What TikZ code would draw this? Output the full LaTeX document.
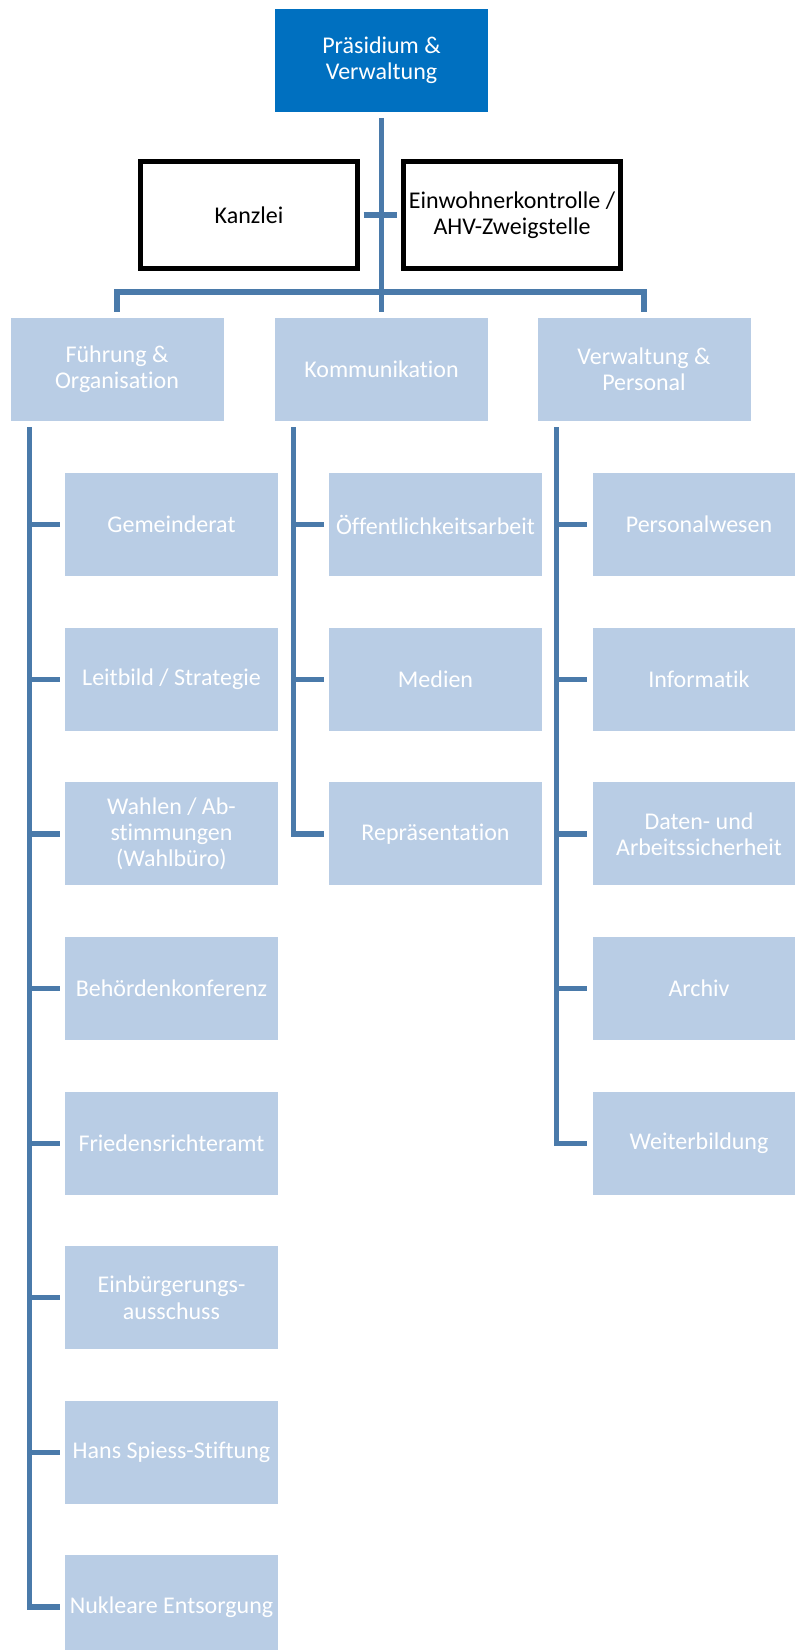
\documentclass[tikz,border=0pt]{standalone}
\usepackage{fontspec}
\setmainfont{Carlito}[Ligatures=NoCommon]
\usetikzlibrary{calc}

\definecolor{headblue}{HTML}{0070C0}
\definecolor{unitblue}{HTML}{B9CDE5}
\definecolor{linkblue}{RGB}{74,122,170}

\tikzset{
  conn/.style={draw=linkblue, line width=3.9pt},
  headbox/.style={fill=headblue, text=white, minimum width=159.75pt, minimum height=77.25pt,
    inner sep=0pt, align=center},
  unitbox/.style={fill=unitblue, text=white, minimum width=159.75pt, minimum height=77.25pt,
    inner sep=0pt, align=center},
  staffbox/.style={draw=black, line width=3.9pt, fill=white, text=black,
    minimum width=163pt, minimum height=80pt, inner sep=0pt, align=center},
  stub/.style={conn, shorten >=3.75pt},
}

\begin{document}
\begin{tikzpicture}[x=0.75pt, y=-0.75pt, font=\fontsize{18}{19.6}\selectfont]
\useasboundingbox (0,0) rectangle (794,1650);

% Head of the department
\node[headbox] (top) at (381.5,60) {Präsidium \&\\Verwaltung};

% Staff units
\node[staffbox] (kanzlei) at (249,215) {Kanzlei};
\node[staffbox] (einw) at (512,215) {Einwohnerkontrolle /\\AHV-Zweigstelle};

% Divisions
\node[unitbox] (fuehr) at (117,369.5) {Führung \&\\Organisation};
\node[unitbox] (komm) at (381.5,369.5) {Kommunikation};
\node[unitbox] (verw) at (644,369.5) {Verwaltung \&\\Personal};

% Führung & Organisation
\node[unitbox] (f1) at (171.5,524.7) {Gemeinderat};
\node[unitbox] (f2) at (171.5,679.3) {Leitbild / Strategie};
\node[unitbox] (f3) at (171.5,833.9) {Wahlen / Ab-\\stimmungen\\(Wahlbüro)};
\node[unitbox] (f4) at (171.5,988.5) {Behördenkonferenz};
\node[unitbox] (f5) at (171.5,1143.1) {Friedensrichteramt};
\node[unitbox] (f6) at (171.5,1297.7) {Einbürgerungs-\\ausschuss};
\node[unitbox] (f7) at (171.5,1452.3) {Hans Spiess-Stiftung};
\node[unitbox] (f8) at (171.5,1606.9) {Nukleare Entsorgung};

% Kommunikation
\node[unitbox] (k1) at (435.5,524.7) {Öffentlichkeitsarbeit};
\node[unitbox] (k2) at (435.5,679.3) {Medien};
\node[unitbox] (k3) at (435.5,833.9) {Repräsentation};

% Verwaltung & Personal
\node[unitbox] (v1) at (699,524.7) {Personalwesen};
\node[unitbox] (v2) at (699,679.3) {Informatik};
\node[unitbox] (v3) at (699,833.9) {Daten- und\\Arbeitssicherheit};
\node[unitbox] (v4) at (699,988.5) {Archiv};
\node[unitbox] (v5) at (699,1143.1) {Weiterbildung};

% Main trunk and bus to the divisions
\coordinate (bus) at (381.5,292);
\draw[conn] ($(top.south)+(0,6)$) -- ($(komm.north)+(0,-6)$);
\draw[conn] ($(fuehr.north)+(0,-6)$) |- (bus) -| ($(verw.north)+(0,-6)$);
\draw[conn, shorten <=2.6pt, shorten >=2.6pt] (kanzlei.east) -- (einw.west);

% Column trunks
\coordinate (fx) at ($(fuehr.south west)+(19,6)$);
\coordinate (kx) at ($(komm.south west)+(19,6)$);
\coordinate (vx) at ($(verw.south west)+(19,6)$);

\foreach \c in {f1,f2,f3,f4,f5,f6,f7,f8} \draw[stub] (fx) |- (\c.west);
\foreach \c in {k1,k2,k3} \draw[stub] (kx) |- (\c.west);
\foreach \c in {v1,v2,v3,v4,v5} \draw[stub] (vx) |- (\c.west);
\end{tikzpicture}
\end{document}
